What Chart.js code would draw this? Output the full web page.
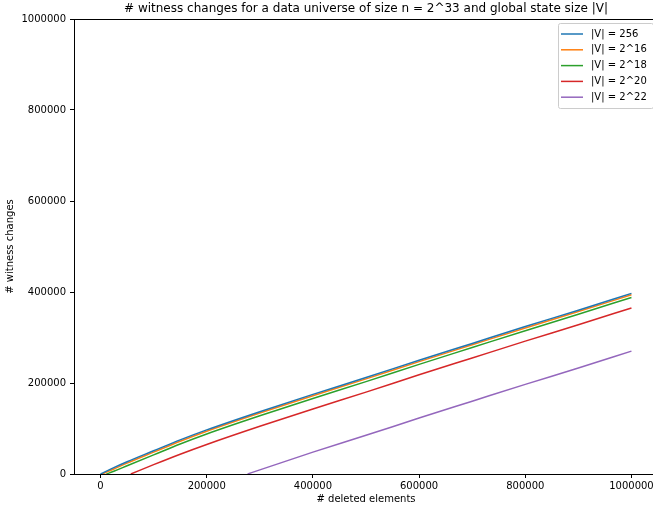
<!DOCTYPE html>
<html lang="en">
<head>
    <meta charset="UTF-8">
    <title>Witness changes</title>
    <script src="https://cdn.jsdelivr.net/npm/chart.js"></script>
    <style>
        html, body { margin: 0; padding: 0; background: #fff; overflow: hidden; }
        #wrap { width: 653px; height: 509px; overflow: hidden; }
        canvas { display: block; }
    </style>
</head>
<body>
    <div id="wrap"><canvas id="witnessChart" width="663" height="509"></canvas></div>
    <script>
        // series (x = # deleted elements, y = # witness changes)
        const seriesLabels = ["|V| = 256", "|V| = 2^16", "|V| = 2^18", "|V| = 2^20", "|V| = 2^22"];
        const seriesColors = ["#1f77b4", "#ff7f0e", "#2ca02c", "#d62728", "#9467bd"];

        const x256 = [0, 25000, 50000, 100000, 150000, 200000, 300000, 400000, 500000, 600000, 700000, 800000, 900000, 1000000];
        const y256 = [0, 14000, 27000, 51000, 75000, 97000, 137000, 175000, 212000, 250000, 287000, 324000, 360000, 397000];

        const x2p16 = [3000, 25000, 50000, 100000, 150000, 200000, 300000, 400000, 500000, 600000, 700000, 800000, 900000, 1000000];
        const y2p16 = [0, 11000, 24000, 48000, 72000, 94000, 134000, 172000, 209000, 247000, 284000, 321000, 357000, 394000];

        const x2p18 = [11000, 25000, 50000, 100000, 150000, 200000, 300000, 400000, 500000, 600000, 700000, 800000, 900000, 1000000];
        const y2p18 = [0, 6000, 18000, 42000, 66000, 88000, 128000, 166000, 203000, 241000, 278000, 315000, 351000, 388000];

        const x2p20 = [57000, 100000, 150000, 200000, 300000, 400000, 500000, 600000, 700000, 800000, 900000, 1000000];
        const y2p20 = [0, 20500, 43500, 65000, 105000, 143000, 180000, 218000, 255000, 292000, 328000, 365000];

        const x2p22 = [277000, 300000, 400000, 500000, 600000, 700000, 800000, 900000, 1000000];
        const y2p22 = [0, 9000, 48000, 85000, 123000, 160000, 197000, 233000, 270000];

        const xTicks = [0, 200000, 400000, 600000, 800000, 1000000];
        const yTicks = [0, 200000, 400000, 600000, 800000, 1000000];

        const chartTitle = "# witness changes for a data universe of size n = 2^33 and global state size |V|";
        const xTitle = "# deleted elements";
        const yTitle = "# witness changes";

        const seriesX = [x256, x2p16, x2p18, x2p20, x2p22];
        const seriesY = [y256, y2p16, y2p18, y2p20, y2p22];

        Chart.defaults.font.family = "'DejaVu Sans', sans-serif";
        Chart.defaults.font.size = 10;
        Chart.defaults.color = "#000";

        // axes box, titles and the boxed legend, matplotlib style
        const decorations = {
            id: "decorations",
            afterDatasetsDraw(chart) {
                const { ctx, chartArea: a } = chart;
                ctx.save();
                ctx.strokeStyle = "#000";
                ctx.lineWidth = 1;
                ctx.strokeRect(Math.round(a.left) + 0.5, Math.round(a.top) + 0.5,
                    Math.round(a.right - a.left), Math.round(a.bottom - a.top));

                const cx = (a.left + a.right) / 2;
                ctx.fillStyle = "#000";
                ctx.textAlign = "center";
                ctx.textBaseline = "middle";
                ctx.font = "12px 'DejaVu Sans'";
                ctx.fillText(chartTitle, cx, 9);
                ctx.font = "10px 'DejaVu Sans'";
                ctx.fillText(xTitle, cx, 499);
                ctx.save();
                ctx.translate(10, (a.top + a.bottom) / 2);
                ctx.rotate(-Math.PI / 2);
                ctx.fillText(yTitle, 0, 0);
                ctx.restore();

                // legend
                const sets = chart.data.datasets;
                const w = 95, rowH = 15.8, h = sets.length * rowH + 6;
                const x0 = Math.round(a.right - 5 - w), y0 = Math.round(a.top + 4);
                ctx.beginPath();
                ctx.roundRect(x0 + 0.5, y0 + 0.5, w, h, 2);
                ctx.fillStyle = "rgba(255,255,255,0.8)";
                ctx.fill();
                ctx.strokeStyle = "#cccccc";
                ctx.stroke();
                ctx.textAlign = "left";
                sets.forEach((ds, i) => {
                    const y = y0 + 11 + i * rowH;
                    ctx.strokeStyle = ds.borderColor;
                    ctx.lineWidth = 1.5;
                    ctx.beginPath();
                    ctx.moveTo(x0 + 3, y);
                    ctx.lineTo(x0 + 25, y);
                    ctx.stroke();
                    ctx.fillStyle = "#000";
                    ctx.fillText(ds.label, x0 + 33, y);
                });
                ctx.restore();
            }
        };

        const ctx = document.getElementById("witnessChart").getContext("2d");
        new Chart(ctx, {
            type: "line",
            data: {
                datasets: seriesLabels.map((label, i) => ({
                    label,
                    data: seriesX[i].map((x, j) => ({ x, y: seriesY[i][j] })),
                    borderColor: seriesColors[i],
                    backgroundColor: seriesColors[i],
                    borderWidth: 1.5,
                    pointRadius: 0,
                    cubicInterpolationMode: "monotone",
                    fill: false,
                })),
            },
            options: {
                responsive: false,
                animation: false,
                devicePixelRatio: 1,
                layout: { padding: { top: 19, right: 5, left: 1, bottom: 0 } },
                plugins: {
                    legend: { display: false },
                    title: { display: false },
                    tooltip: { enabled: false },
                },
                scales: {
                    x: {
                        type: "linear",
                        min: -50000,
                        max: 1050000,
                        afterBuildTicks: (s) => { s.ticks = xTicks.map(v => ({ value: v })); },
                        afterFit: (s) => { s.height = 35; },
                        ticks: { padding: 2, maxRotation: 0, callback: (v) => String(v) },
                        grid: { drawOnChartArea: false, tickLength: 4, color: "#000" },
                        border: { display: false },
                    },
                    y: {
                        min: 0,
                        max: 1000000,
                        afterBuildTicks: (s) => { s.ticks = yTicks.map(v => ({ value: v })); },
                        afterFit: (s) => { s.width = 73; },
                        ticks: { padding: 4, callback: (v) => String(v) },
                        grid: { drawOnChartArea: false, tickLength: 4, color: "#000" },
                        border: { display: false },
                    },
                },
            },
            plugins: [decorations],
        });
    </script>
</body>
</html>
